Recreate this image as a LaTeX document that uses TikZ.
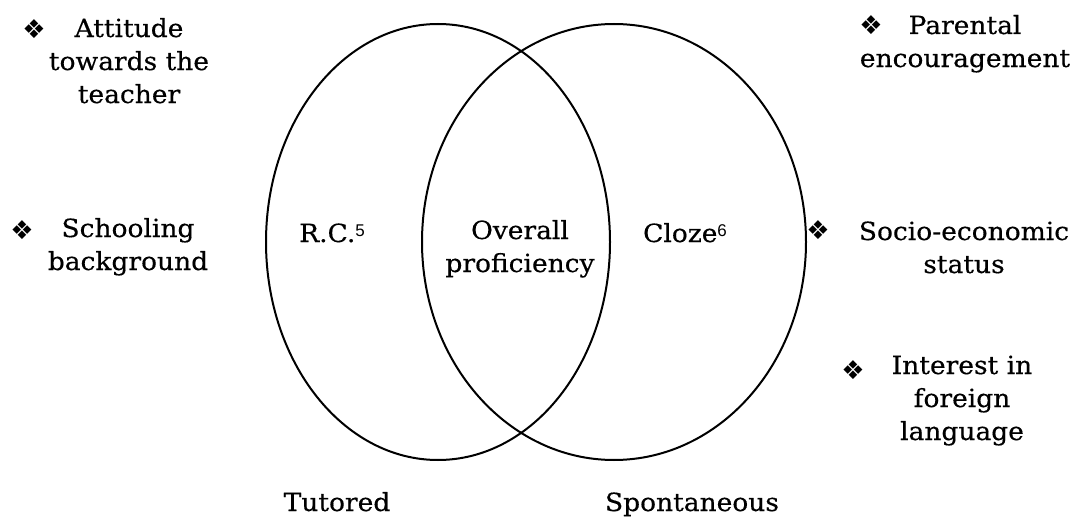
\documentclass[tikz,border=0pt]{standalone}
\usepackage{fontspec}
\setmainfont{DejaVu Serif}[FakeStretch=1.06,FakeBold=0.4]
\newfontfamily\bulletfont{DejaVu Sans}
\newfontfamily\supfont{Liberation Sans}
\newcommand{\bul}{{\bulletfont\fontsize{26}{26}\selectfont ❖}}
\newcommand{\mysup}[1]{\raisebox{6pt}{\supfont\fontsize{17}{17}\selectfont #1}}
\begin{document}
\begin{tikzpicture}[x=1pt,y=-1pt,
  txt/.style={inner sep=0pt,anchor=base,font=\fontsize{25}{33}\selectfont},
  para/.style={inner sep=0pt,anchor=base,align=center,font=\fontsize{25}{33}\selectfont},
  bullet/.style={inner sep=0pt,anchor=center},
  venn/.style={line width=2pt}]
\useasboundingbox (0,0) rectangle (1080,519);
% ellipses
\draw[venn] (438,242) ellipse [x radius=172pt, y radius=218pt];
\draw[venn] (614,242) ellipse [x radius=192pt, y radius=218pt];
% left factors (base = last line's baseline)
\node[bullet] (b1) at (34,29) {\bul};
\node[para] (att) at (129,103) {Attitude\\towards the\\teacher};
\node[bullet] (b2) at (22,230) {\bul};
\node[para] (sch) at (128,270) {Schooling\\background};
% right factors
\node[bullet] (b3) at (871,25) {\bul};
\node[para] (par) at (965,67) {Parental\\encouragement};
\node[bullet] (b4) at (818,230) {\bul};
\node[para] (soc) at (964,273) {Socio-economic\\status};
\node[bullet] (b5) at (853,370) {\bul};
\node[para] (int) at (962,440) {Interest in\\foreign\\language};
% inner labels
\node[txt] (rc) at (332,242) {R.C.\mysup{5}};
\node[para] (ovr) at (520,272) {Overall\\proficiency};
\node[txt] (clz) at (685,242) {Cloze\mysup{6}};
% bottom labels
\node[txt] (tut) at (337,511) {Tutored};
\node[txt] (spo) at (692,511) {Spontaneous};
\end{tikzpicture}
\end{document}
